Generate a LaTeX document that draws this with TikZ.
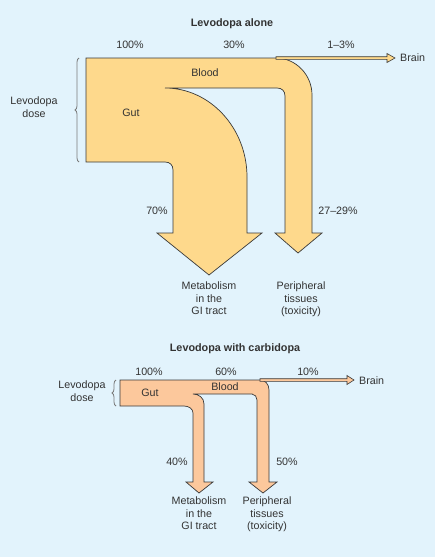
\documentclass[tikz,border=0pt]{standalone}
\usepackage{fontspec}
\setmainfont{Liberation Sans}
\usetikzlibrary{decorations.pathreplacing}
\definecolor{ldbg}{HTML}{E2F3FC}
\definecolor{ldgut}{HTML}{FED98C}
\definecolor{ldcarbi}{HTML}{FCC89C}
\definecolor{ldline}{HTML}{3A3A3A}
\definecolor{ldtext}{HTML}{333333}
\definecolor{ldgray}{HTML}{7A7A7A}

\begin{document}
\begin{tikzpicture}[
  x=1pt, y=-1pt,
  flow/.style={draw=ldline, line width=0.7pt, line join=miter},
  lbl/.style={font=\fontsize{10.7}{12.5}\selectfont, text=ldtext, inner sep=0pt, align=center},
  title/.style={font=\fontsize{10.8}{12.5}\selectfont\bfseries, text=ldtext, inner sep=0pt},
  brace/.style={decorate, decoration={brace, amplitude=4pt}, draw=ldgray, line width=0.8pt},
]

% background
\fill[ldbg] (0,0) rectangle (435,557);
\useasboundingbox (0,0) rectangle (435,557);

% Levodopa alone
\node[title] (titleA) at (232,24) {Levodopa alone};

\filldraw[flow, fill=ldgut] (86,58) -- (276,58)
  .. controls (296,58) and (312,75) .. (312,95) -- (312,233)
  -- (322,233) -- (298,253) -- (275,233) -- (285,233) -- (285,96)
  .. controls (285,91) and (282,88) .. (277,88) -- (165,88)
  .. controls (210,88) and (247,128) .. (247,177) -- (247,233)
  -- (262,233) -- (209,275) -- (157,233) -- (173,233) -- (173,170)
  .. controls (173,165) and (170,162) .. (165,162) -- (86,162) -- cycle;

% to the brain
\filldraw[flow, fill=ldgut, line width=0.6pt] (276,56.7) -- (387,56.7) -- (387,53.5)
  -- (395,58) -- (387,62.5) -- (387,59.3) -- (276,59.3) -- cycle;

\node[lbl, anchor=west] (brainA) at (400,58) {Brain};
\node[lbl] (pctA1) at (130,45) {100\%};
\node[lbl] (pctA2) at (234,45) {30\%};
\node[lbl] (pctA3) at (341,45) {1–3\%};
\node[lbl] (bloodA) at (205,73) {Blood};
\node[lbl] (gutA) at (131,113) {Gut};
\node[lbl] (pctA4) at (157,211) {70\%};
\node[lbl] (pctA5) at (338,211) {27–29\%};
\node[lbl, anchor=north] (metabA) at (209,282) {Metabolism\\in the\\GI tract};
\node[lbl, anchor=north] (periA) at (301,282) {Peripheral\\tissues\\(toxicity)};

\draw[brace] (79,162) -- (79,58);
\node[lbl] (doseA) at (34,107) {Levodopa\\dose};

% Levodopa with carbidopa
\node[title] (titleB) at (235,349) {Levodopa with carbidopa};

\filldraw[flow, fill=ldcarbi] (120,380) -- (260,380)
  .. controls (265,380) and (269,384) .. (269,390) -- (269,482)
  -- (277,482) -- (263,493) -- (249,482) -- (257,482) -- (257,400)
  .. controls (257,397) and (255,394) .. (252,394) -- (193,394)
  .. controls (199,394) and (204,398) .. (204,404) -- (204,482)
  -- (213,482) -- (199,493) -- (186,482) -- (193,482) -- (193,413)
  .. controls (193,409) and (189,406) .. (184,406) -- (120,406) -- cycle;

% to the brain
\filldraw[flow, fill=ldcarbi, line width=0.6pt] (260,378.7) -- (347,378.7) -- (347,375.5)
  -- (354,380) -- (347,384.5) -- (347,381.3) -- (260,381.3) -- cycle;

\node[lbl, anchor=west] (brainB) at (359,381) {Brain};
\node[lbl] (pctB1) at (149,372) {100\%};
\node[lbl] (pctB2) at (226,372) {60\%};
\node[lbl] (pctB3) at (308,372) {10\%};
\node[lbl] (gutB) at (150,393) {Gut};
\node[lbl] (bloodB) at (225,387) {Blood};
\node[lbl] (pctB4) at (177,462) {40\%};
\node[lbl] (pctB5) at (287,462) {50\%};
\node[lbl, anchor=north] (metabB) at (199,497) {Metabolism\\in the\\GI tract};
\node[lbl, anchor=north] (periB) at (267,497) {Peripheral\\tissues\\(toxicity)};

\draw[brace] (116,406) -- (116,380);
\node[lbl] (doseB) at (82,391) {Levodopa\\dose};

\end{tikzpicture}
\end{document}
